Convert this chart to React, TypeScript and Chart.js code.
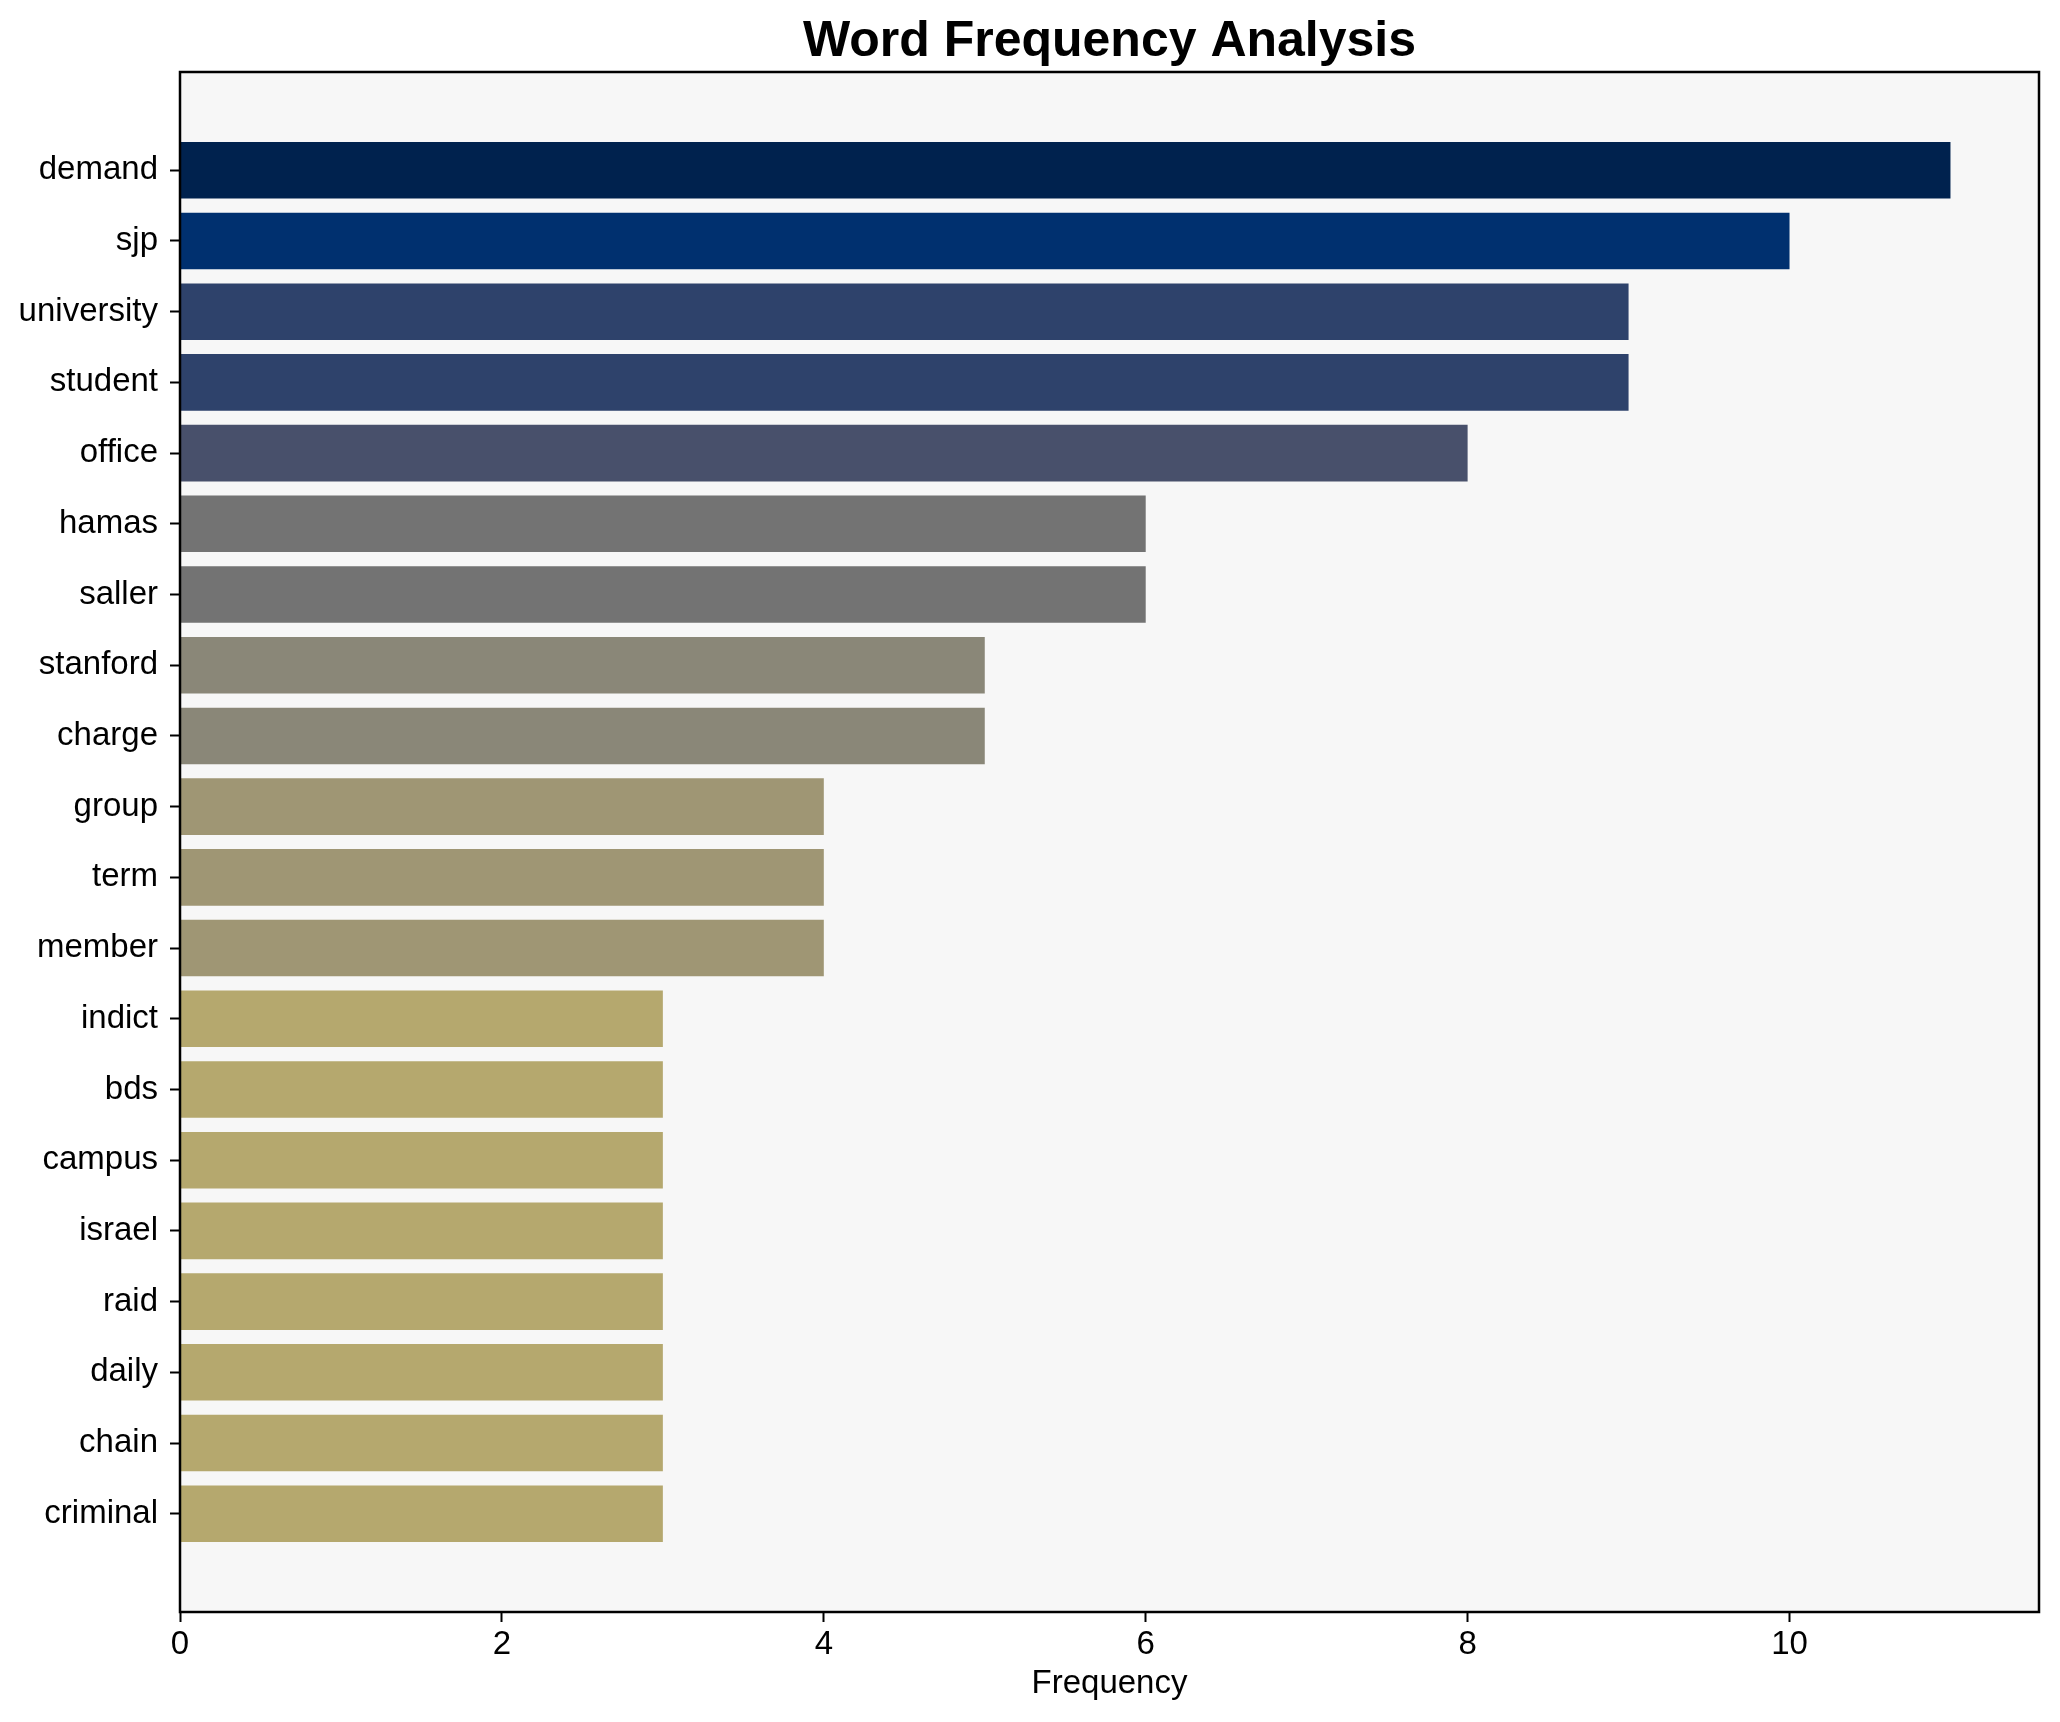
import React, { useEffect, useRef } from "react";
import { Chart, registerables } from "chart.js";

Chart.register(...registerables);

const words = [
  "demand", "sjp", "university", "student", "office", "hamas", "saller",
  "stanford", "charge", "group", "term", "member", "indict", "bds",
  "campus", "israel", "raid", "daily", "chain", "criminal",
];
const counts = [11, 10, 9, 9, 8, 6, 6, 5, 5, 4, 4, 4, 3, 3, 3, 3, 3, 3, 3, 3];
const xTickValues = [0, 2, 4, 6, 8, 10];

const palette: Record<number, string> = {
  11: "#00224E",
  10: "#00306F",
  9: "#2E426B",
  8: "#48506B",
  6: "#737373",
  5: "#8A8778",
  4: "#9F9674",
  3: "#B5A86E",
};

const FONT = "'Liberation Sans', Arial, sans-serif";

const framePlugin = {
  id: "frame",
  beforeDraw(chart: any) {
    const { ctx, chartArea } = chart;
    ctx.save();
    ctx.fillStyle = "#ffffff";
    ctx.fillRect(0, 0, chart.width, chart.height);
    ctx.fillStyle = "#F7F7F7";
    ctx.fillRect(chartArea.left, chartArea.top, chartArea.right - chartArea.left, chartArea.bottom - chartArea.top);
    ctx.restore();
  },
  afterDraw(chart: any) {
    const { ctx, chartArea } = chart;
    ctx.save();
    ctx.strokeStyle = "#000000";
    ctx.lineWidth = 2.5;
    ctx.strokeRect(chartArea.left, chartArea.top, chartArea.right - chartArea.left, chartArea.bottom - chartArea.top);
    ctx.restore();
  },
};

export default function App() {
  const ref = useRef<HTMLCanvasElement | null>(null);

  useEffect(() => {
    if (!ref.current) return;
    const chart = new Chart(ref.current, {
      type: "bar",
      data: {
        datasets: [
          {
            data: counts.map((c, i) => ({ x: c, y: i })) as any,
            backgroundColor: counts.map((c) => palette[c]),
            borderWidth: 0,
            categoryPercentage: 1,
            barPercentage: 0.8,
          },
        ],
      },
      options: {
        indexAxis: "y",
        animation: false,
        responsive: false,
        devicePixelRatio: 1,
        layout: { padding: { left: 0, right: 21, top: 0, bottom: 0 } },
        plugins: {
          legend: { display: false },
          tooltip: { enabled: false },
          title: {
            display: true,
            fullSize: false,
            text: "Word Frequency Analysis",
            color: "#000000",
            font: { family: FONT, size: 50, weight: "bold", lineHeight: 1.2 },
            padding: { top: 12, bottom: 0 },
          },
        },
        scales: {
          x: {
            type: "linear",
            min: 0,
            max: 11.55,
            offset: false,
            afterBuildTicks: (s: any) => {
              s.ticks = xTickValues.map((v) => ({ value: v }));
            },
            afterFit: (s: any) => {
              s.height = 110;
            },
            grid: {
              display: true,
              offset: false,
              drawOnChartArea: false,
              drawTicks: true,
              tickLength: 10,
              tickColor: "#000000",
              tickWidth: 2,
            },
            border: { display: false },
            ticks: {
              color: "#000000",
              font: { family: FONT, size: 33, lineHeight: 1.2 },
              padding: 3,
              autoSkip: false,
              maxRotation: 0,
            },
            title: {
              display: true,
              text: "Frequency",
              color: "#000000",
              font: { family: FONT, size: 33, lineHeight: 1.2 },
              padding: { top: 0, bottom: 18 },
            },
          },
          y: {
            type: "linear",
            min: -1.39,
            max: 20.39,
            reverse: true,
            offset: false,
            afterBuildTicks: (s: any) => {
              s.ticks = words.map((_, i) => ({ value: i }));
            },
            afterFit: (s: any) => {
              s.width = 180;
            },
            grid: {
              display: true,
              offset: false,
              drawOnChartArea: false,
              drawTicks: true,
              tickLength: 10,
              tickColor: "#000000",
              tickWidth: 2,
            },
            border: { display: false },
            ticks: {
              color: "#000000",
              font: { family: FONT, size: 33, lineHeight: 1.2 },
              padding: 12,
              autoSkip: false,
              callback: (v: any) => words[v as number] ?? "",
            },
          },
        },
      },
      plugins: [framePlugin],
    });
    return () => chart.destroy();
  }, []);

  return (
    <div style={{ position: "absolute", left: 0, top: 0, width: 2060, height: 1722 }}>
      <canvas ref={ref} width={2060} height={1722} style={{ display: "block", width: 2060, height: 1722 }} />
    </div>
  );
}
